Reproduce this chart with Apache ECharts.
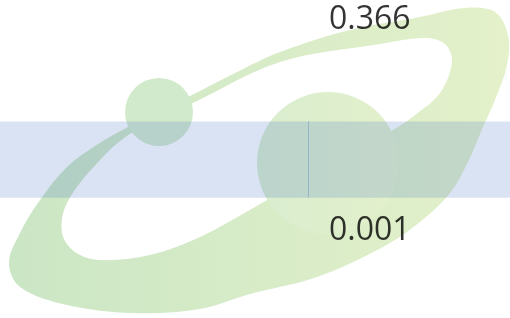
<!DOCTYPE html>
<html>
<head>
<meta charset="utf-8">
<title>band</title>
<script src="https://cdn.jsdelivr.net/npm/echarts@6/dist/echarts.min.js"></script>
<style>
  html, body { margin: 0; padding: 0; background: #fff; }
  #chart { width: 510px; height: 318px; }
</style>
</head>
<body>
<div id="chart"></div>
<script>
// values
const valueLabels = [0.366, 0.001]
const labelPosX = 0.725
const bandRange = [0.058, 0.19]
const markerX = 0.6045

// background watermark (orbit logo), purely decorative
const orbitOuter = [[9,263],[20,233],[40,200],[67,167],[95,146],[128,127],[188,97],[235,73],[280,52],[350,30],[420,17],[465,8],[495,12],[508,35],[507,65],[495,100],[483,127],[468,162],[450,193],[420,222],[383,247],[317,277],[250,294],[200,309],[133,313],[67,305],[20,287]]
const orbitInner = [[100,260],[150,255],[200,237],[255,207],[330,165],[390,132],[415,115],[440,93],[452,62],[445,44],[425,38],[380,44],[280,62],[195,102],[133,132],[100,160],[67,203],[62,233],[75,252]]

const greenFill = {
  type: 'linear', x: 0, y: 0, x2: 1, y2: 0,
  colorStops: [{ offset: 0, color: '#cbe6c5' }, { offset: 1, color: '#e4f1ca' }]
}

const chart = echarts.init(document.getElementById('chart'))
chart.setOption({
  animation: false,
  graphic: [
    { type: 'polygon', z: 0, silent: true, shape: { points: orbitOuter, smooth: 0.35 }, style: { fill: greenFill } },
    { type: 'polygon', z: 0, silent: true, shape: { points: orbitInner, smooth: 0.35 }, style: { fill: '#ffffff' } },
    { type: 'circle', z: 0, silent: true, shape: { cx: 328, cy: 163, r: 71 },
      style: { fill: { type: 'linear', x: 0, y: 0, x2: 1, y2: 0, colorStops: [{ offset: 0, color: '#d9edcf' }, { offset: 1, color: '#e3f0cb' }] } } },
    { type: 'circle', z: 0, silent: true, shape: { cx: 159, cy: 112, r: 34 }, style: { fill: '#d2eacc' } }
  ],
  grid: { left: 0, right: 0, top: 0, bottom: 0 },
  xAxis: { type: 'value', min: 0, max: 1, show: false },
  yAxis: { type: 'value', min: -0.15, max: 0.4, show: false },
  series: [
    {
      type: 'scatter',
      symbolSize: 0,
      z: 5,
      data: valueLabels.map(v => [labelPosX, v]),
      label: {
        show: true,
        position: 'inside',
        formatter: p => p.value[1].toFixed(3),
        fontFamily: 'Open Sans',
        fontSize: 32,
        color: '#000'
      },
      markArea: {
        silent: true,
        itemStyle: { color: 'rgba(68,114,196,0.2)' },
        data: [[{ yAxis: bandRange[0] }, { yAxis: bandRange[1] }]]
      },
      markLine: {
        silent: true,
        symbol: 'none',
        label: { show: false },
        lineStyle: { color: '#98b4c8', width: 1, type: 'solid' },
        data: [[{ coord: [markerX, bandRange[0]] }, { coord: [markerX, bandRange[1]] }]]
      }
    }
  ]
})
</script>
</body>
</html>
